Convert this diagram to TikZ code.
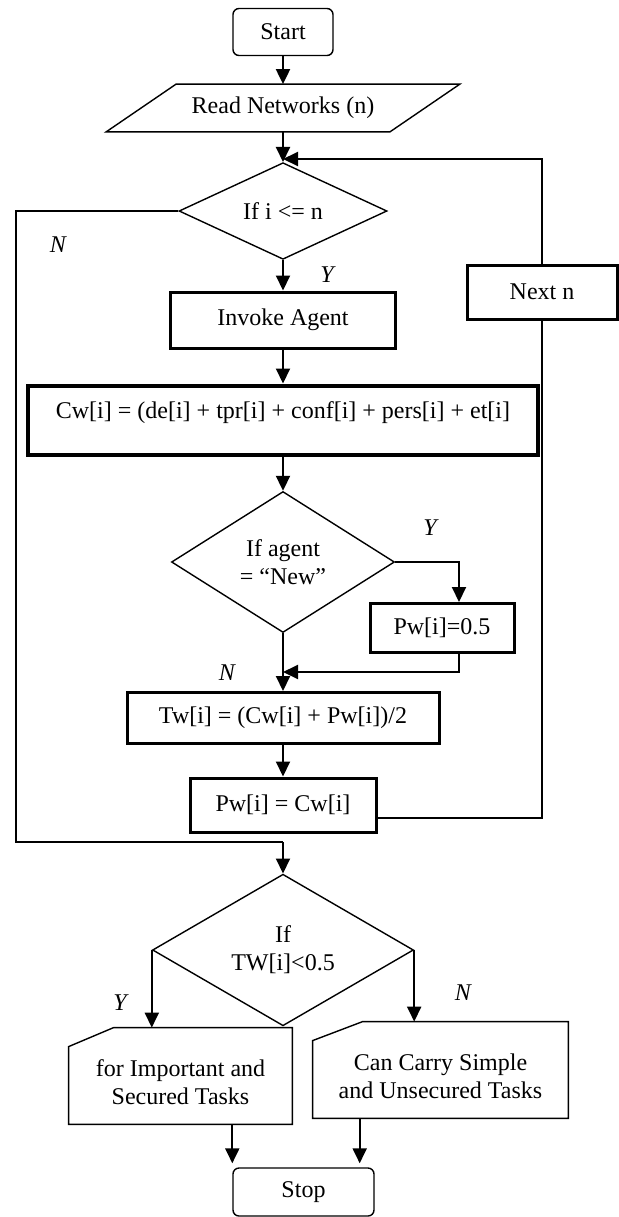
\documentclass[tikz,border=0pt]{standalone}
\usepackage{fontspec}
\setmainfont{Liberation Serif}
\usetikzlibrary{arrows.meta,calc,positioning,shapes.geometric}

\begin{document}
\begin{tikzpicture}[
  x=0.5pt, y=-0.5pt,
  every node/.style={font=\fontsize{12pt}{14pt}\selectfont, inner sep=0pt},
  terminal/.style={draw, line width=0.7pt, rounded corners=3pt,
                   minimum width=50pt, minimum height=23.5pt},
  process/.style={draw, line width=1.5pt},
  decision/.style={diamond, draw, line width=0.7pt, align=center},
  iobox/.style={minimum width=141.5pt, minimum height=23.5pt},
  cardbox/.style={align=center, minimum height=48pt},
  answer/.style={font=\fontsize{12pt}{14pt}\selectfont\itshape},
  flow/.style={-{Triangle[length=7.5pt,width=7pt]}, line width=1pt},
  wire/.style={line width=0.7pt},
]
  % #1 node, #2 corner cut along x, #3 corner cut along y
  \newcommand{\cardoutline}[3]{%
    \draw[wire] (#1.south west) -- ($(#1.north west)+(0,#3)$)
      -- ($(#1.north west)+(#2,0)$) -- (#1.north east)
      -- (#1.south east) -- cycle;
  }

  \useasboundingbox (0,0) rectangle (618,1217);

  % Main column.
  \node[terminal] (start) at (283,32) {Start};
  \node[iobox] (read) at (283,108) {Read Networks (n)};
  \draw[wire] ($(read.south west)+(-35,0)$) -- ($(read.north west)+(35,0)$)
    -- ($(read.north east)+(35,0)$) -- ($(read.south east)+(-35,0)$) -- cycle;
  \node[decision, minimum width=104pt, minimum height=39.5pt] (ifn) at (283,211) {If i <= n};
  \node[process, minimum width=112.5pt, minimum height=28pt] (invoke) at (283,320) {Invoke Agent};
  \node[process, line width=2pt, minimum width=255pt, minimum height=34.5pt,
        text depth=9.5pt] (cw) at (283,420)
        {Cw[i] = (de[i] + tpr[i] + conf[i] + pers[i] + et[i]};
  \node[decision, minimum width=111.5pt, minimum height=70.5pt] (ifnew) at (283,562) {If agent\\= “New”};
  \node[process, minimum width=72pt, minimum height=24.5pt] (pwhalf) at (442,628) {Pw[i]=0.5};
  \node[process, minimum width=156pt, minimum height=25.5pt] (tw) at (283,718) {Tw[i] = (Cw[i] + Pw[i])/2};
  \node[process, minimum width=93pt, minimum height=27pt] (pwcw) at (283,805) {Pw[i] = Cw[i]};
  \node[process, minimum width=75pt, minimum height=27pt] (next) at (542,292) {Next n};

  % Final decision.
  \node[decision, minimum width=130.5pt, minimum height=67pt] (iftw) at (283,950) {If\\TW[i]<0.5};
  \node[cardbox, minimum width=111.5pt] (secured) at (180.5,1076)
    {\rule{0pt}{15pt}for Important and\\Secured Tasks};
  \cardoutline{secured}{45}{19}
  \node[cardbox, minimum width=127.5pt] (simple) at (440.5,1070)
    {\rule{0pt}{15pt}Can Carry Simple\\and Unsecured Tasks};
  \cardoutline{simple}{50}{19}
  \node[terminal, minimum width=70.5pt, minimum height=24pt] (stop) at (303.5,1192) {Stop};

  % Branch labels.
  \node[answer] (nfirst) at (58,245) {N};
  \node[answer] (yfirst) at (327,275) {Y};
  \node[answer] (ynew) at (430,528) {Y};
  \node[answer] (nnew) at (227,673) {N};
  \node[answer] (ylow) at (120,1003) {Y};
  \node[answer] (nlow) at (463,993) {N};

  % Junctions.
  \coordinate (loopin) at (283,159);
  \coordinate (nleft) at (16,842);
  \coordinate (nin) at (283,842);
  \coordinate (merge) at (283,672);
  \coordinate (pwin) at ($(pwhalf.north)+(17,0)$);
  \coordinate (stopin) at ($(stop.north east)+(-15,0)$);

  \draw[flow] (start) -- (read);
  \draw[flow] (read) -- (ifn);
  \draw[flow] (ifn) -- (invoke);
  \draw[flow] (invoke) -- (cw);
  \draw[flow] (cw) -- (ifnew);
  \draw[flow] (ifnew.east) -| (pwin);
  \draw[flow] (pwin |- pwhalf.south) |- (merge);
  \draw[flow] (ifnew) -- (tw);
  \draw[flow] (tw) -- (pwcw);
  \draw[wire] ($(pwcw.east)+(0,13)$) -| (next.south);
  \draw[flow] (next.north) |- (loopin);
  \draw[wire] (ifn.west) -| (nleft) -- (nin);
  \draw[flow] (nin) -- (iftw.north);
  \draw[flow] (iftw.west) -- (iftw.west |- secured.north);
  \draw[flow] (iftw.east) -- (iftw.east |- simple.north);
  \draw[flow, shorten >=2pt] (secured.south -| stop.west) -- (stop.north west);
  \draw[flow, shorten >=2pt] (simple.south -| stopin) -- (stopin);
\end{tikzpicture}
\end{document}
